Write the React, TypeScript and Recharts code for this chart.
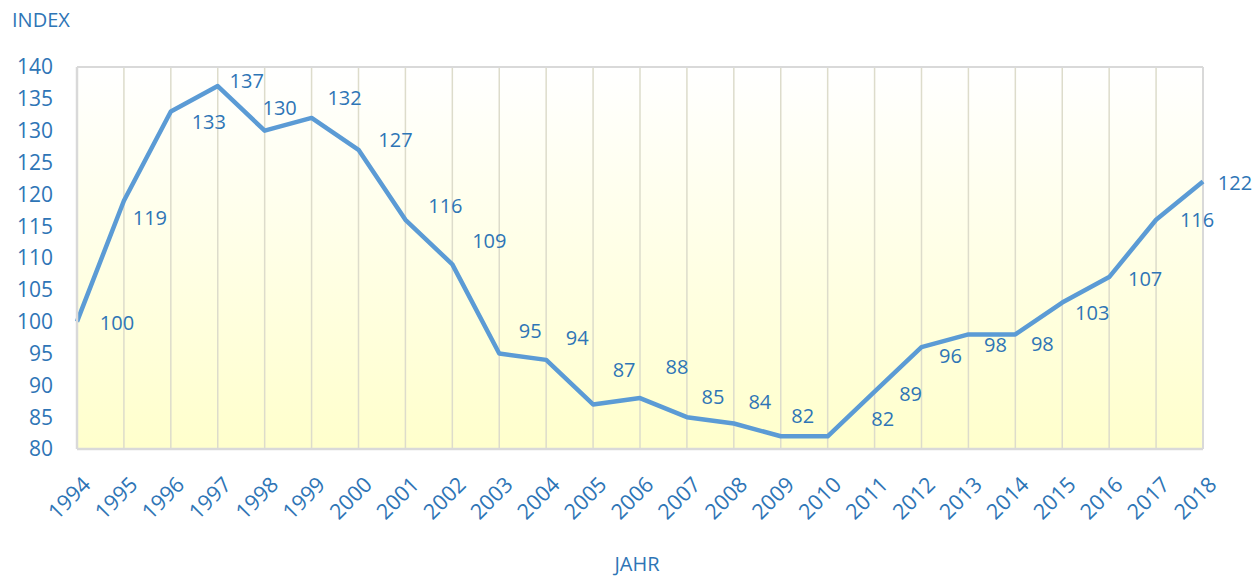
import React from 'react';
import { LineChart, Line, XAxis, YAxis, CartesianGrid, ReferenceLine } from 'recharts';

const years = ['1994', '1995', '1996', '1997', '1998', '1999', '2000', '2001', '2002', '2003', '2004', '2005', '2006',
    '2007', '2008', '2009', '2010', '2011', '2012', '2013', '2014', '2015', '2016', '2017', '2018'];
const indexValues = [100, 119, 133, 137, 130, 132, 127, 116, 109, 95, 94, 87, 88, 85, 84, 82, 82, 89, 96, 98, 98, 103, 107, 116, 122];
const yTicks = [80, 85, 90, 95, 100, 105, 110, 115, 120, 125, 130, 135, 140];

const data = years.map((year, i) => ({ year, value: indexValues[i] }));

const BLUE = '#2E75B6';
const LINE = '#5B9BD5';
const FONT = '"Open Sans", Lato, sans-serif';

// Excel put the value labels all over the place, these nudges copy that (dx, dy from the point)
const LABEL_NUDGE: [number, number][] = [
    [40, 1], [26, 17], [38, 10], [29, -6], [15, -23], [33, -20], [37, -10], [40, -14], [37, -24],
    [31, -23], [31, -22], [31, -35], [37, -32], [26, -21], [26, -22], [22, -21], [55, -18],
    [36, 2], [29, 8], [27, 10], [27, 9], [30, 10], [36, 1], [41, 0], [32, 1],
];

const renderLabel = (props: any) => {
    const { x, y, value, index } = props;
    const [dx, dy] = LABEL_NUDGE[index] || [30, -15];
    return (
        <text key={`lbl-${index}`} x={x + dx} y={y + dy} textAnchor="middle" dominantBaseline="central"
            fill={BLUE} fontSize={20} fontFamily={FONT}>
            {value}
        </text>
    );
};

const YearTick: React.FC<any> = ({ x, y, payload }) => (
    <text transform={`translate(${x + 4},${y + 26}) rotate(-45)`} textAnchor="end" dy="0.72em"
        fill={BLUE} fontSize={21.5} fontFamily={FONT}>
        {payload.value}
    </text>
);

const App: React.FC = () => {
    return (
        <div style={{ position: 'absolute', left: 0, top: 0, width: 1253, height: 579, background: '#fff' }}>
            <LineChart width={1253} height={579} data={data} margin={{ top: 67, right: 50, left: 0, bottom: 0 }}>
                <defs>
                    <linearGradient id="plotBg" x1="0" y1="0" x2="0" y2="1">
                        <stop offset="0%" stopColor="#FFFFFF" />
                        <stop offset="100%" stopColor="#FFFFCC" />
                    </linearGradient>
                </defs>
                <CartesianGrid horizontal={false} vertical stroke="#DDDCCB" strokeWidth={1.5} fill="url(#plotBg)" />
                <XAxis dataKey="year" type="category" height={130} interval={0} tickLine={false} tickSize={0}
                    tickMargin={0} axisLine={{ stroke: '#D9D9D9', strokeWidth: 2.5 }} tick={<YearTick />} />
                <YAxis domain={[80, 140]} ticks={yTicks} width={77} tickLine={false} tickSize={0} tickMargin={24}
                    axisLine={{ stroke: '#D9D9D9', strokeWidth: 2.5 }}
                    tick={{ fill: BLUE, fontSize: 21, fontFamily: FONT }} />
                <ReferenceLine y={140} stroke="#D9D9D9" strokeWidth={2} />
                <ReferenceLine x="2018" stroke="#D9D9D9" strokeWidth={2} />
                <Line type="linear" dataKey="value" stroke={LINE} strokeWidth={4.5} dot={false}
                    strokeLinejoin="round" label={renderLabel} isAnimationActive={false} />
            </LineChart>
            <svg width={1253} height={579} style={{ position: 'absolute', left: 0, top: 0, pointerEvents: 'none' }}>
                <text x={12} y={27} fill={BLUE} fontSize={20} fontFamily={FONT}>INDEX</text>
                <text x={637} y={571} fill={BLUE} fontSize={20} fontFamily={FONT} textAnchor="middle">JAHR</text>
            </svg>
        </div>
    );
};

export default App;
